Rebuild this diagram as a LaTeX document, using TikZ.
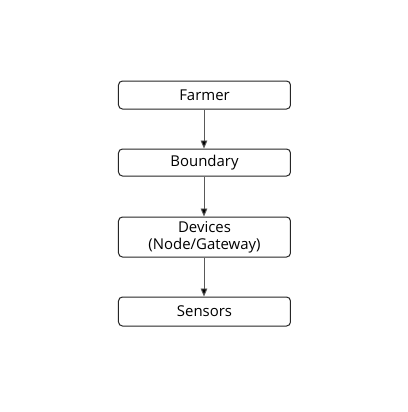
\documentclass[tikz,border=0pt]{standalone}
\usepackage{fontspec}
\setmainfont{Open Sans}
\usetikzlibrary{arrows.meta}
\begin{document}
\begin{tikzpicture}[x=0.75pt,y=-0.75pt,
  box/.style={draw=black!85, line width=0.75pt, rounded corners=3pt, fill=white, align=center, font=\fontsize{11.2}{13}\selectfont, inner sep=0pt},
  conn/.style={draw=black!65, line width=0.7pt, -{Triangle[length=6pt,width=5pt,fill=black]}}]
\useasboundingbox[fill=white] (0,0) rectangle (408,412);
\node[box, minimum width=172*0.75pt, minimum height=28*0.75pt] (farmer) at (204.5,95) {Farmer};
\node[box, minimum width=172*0.75pt, minimum height=27*0.75pt] (boundary) at (204.5,162.5) {Boundary};
\node[box, minimum width=172*0.75pt, minimum height=40*0.75pt] (devices) at (204.5,237) {Devices\\(Node/Gateway)};
\node[box, minimum width=172*0.75pt, minimum height=29*0.75pt] (sensors) at (204.5,311.5) {Sensors};
\draw[conn] (farmer.south -| 204,0) -- (boundary.north -| 204,0);
\draw[conn] (boundary.south -| 204,0) -- (devices.north -| 204,0);
\draw[conn] (devices.south -| 204,0) -- (sensors.north -| 204,0);
\end{tikzpicture}
\end{document}
